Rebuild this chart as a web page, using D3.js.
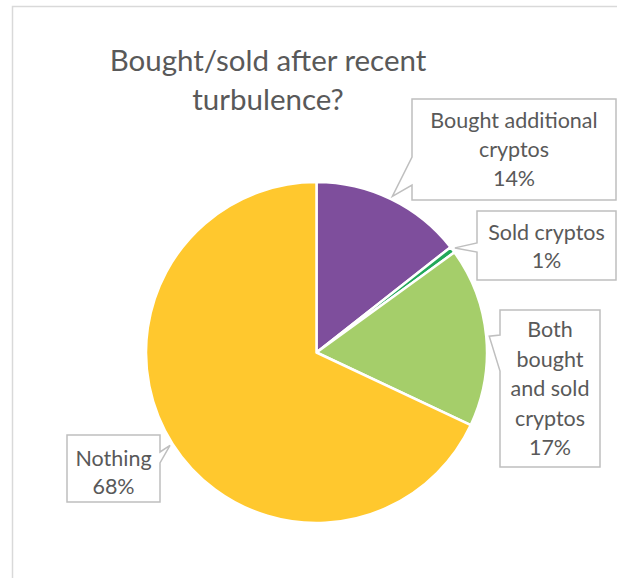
<!DOCTYPE html>
<html>
<head>
<meta charset="utf-8">
<script src="https://cdn.jsdelivr.net/npm/d3@7"></script>
<style>
  html, body { margin: 0; padding: 0; background: #fff; }
  svg { display: block; }
</style>
</head>
<body>
<svg id="chart" width="617" height="578"></svg>
<script>
// ---- data ----
const titleLines = ["Bought/sold after recent", "turbulence?"];
const categories = ["Bought additional cryptos", "Sold cryptos", "Both bought and sold cryptos", "Nothing"];
const values = [14.4, 0.6, 17.0, 68.0];
const colors = ["#7E4E9C", "#22A85A", "#A5CE6A", "#FFC82E"];
const labelLines = [
  ["Bought additional", "cryptos"],
  ["Sold cryptos"],
  ["Both", "bought", "and sold", "cryptos"],
  ["Nothing"]
];

// ---- layout ----
const W = 617, H = 578;
const cx = 316.5, cy = 352.5, R = 170.5;
const font = "Lato, 'Open Sans', sans-serif";
const textColor = "#595959";

// callout boxes: x0,y0,x1,y1, pointer side, base range, first baseline, line step
const boxes = [
  {x0: 412, y0: 99,  x1: 616, y1: 200, side: "left",  b1: 157, b2: 185, base: 128, step: 29},
  {x0: 477, y0: 211, x1: 616, y1: 280, side: "left",  b1: 243, b2: 252, base: 240, step: 28},
  {x0: 500, y0: 310, x1: 600, y1: 467, side: "left",  b1: 335, b2: 371, base: 337, step: 29.5},
  {x0: 67,  y0: 435, x1: 160, y1: 502, side: "right", b1: 452, b2: 463, base: 466, step: 28}
];

const svg = d3.select("#chart");

// chart frame
svg.append("rect")
  .attr("x", 12.5).attr("y", 6.5)
  .attr("width", 800).attr("height", 800)
  .attr("fill", "none")
  .attr("stroke", "#D9D9D9")
  .attr("stroke-width", 1.5);

// title
svg.append("text")
  .attr("x", 268).attr("text-anchor", "middle")
  .attr("font-family", font).attr("font-size", 29.5)
  .attr("fill", textColor)
  .selectAll("tspan").data(titleLines).join("tspan")
  .attr("x", 268)
  .attr("y", (d, i) => 71 + i * 39)
  .text(d => d);

// pie
const pie = d3.pie().sort(null).value(d => d);
const arcs = pie(values);
const total = d3.sum(values);
const arc = d3.arc().innerRadius(0).outerRadius(R);
const g = svg.append("g").attr("transform", `translate(${cx},${cy})`);
g.selectAll("path").data(arcs).join("path")
  .attr("d", arc)
  .attr("fill", (d, i) => colors[i])
  .attr("stroke", "#fff")
  .attr("stroke-width", 2.5)
  .attr("stroke-linejoin", "round");

// callouts
arcs.forEach((a, i) => {
  const b = boxes[i];
  const mid = (a.startAngle + a.endAngle) / 2;
  const tr = R + 3;
  const tx = cx + tr * Math.sin(mid);
  const ty = cy - tr * Math.cos(mid);
  let p;
  if (b.side === "left") {
    p = `M${b.x0},${b.y0}H${b.x1}V${b.y1}H${b.x0}V${b.b2}L${tx},${ty}L${b.x0},${b.b1}Z`;
  } else {
    p = `M${b.x0},${b.y0}H${b.x1}V${b.b1}L${tx},${ty}L${b.x1},${b.b2}V${b.y1}H${b.x0}Z`;
  }
  svg.append("path")
    .attr("d", p)
    .attr("fill", "#fff")
    .attr("stroke", "#BFBFBF")
    .attr("stroke-width", 1.5)
    .attr("stroke-linejoin", "miter");
  const xc = (b.x0 + b.x1) / 2;
  const lines = labelLines[i].concat([Math.round(a.data / total * 100) + "%"]);
  svg.append("text")
    .attr("text-anchor", "middle")
    .attr("font-family", font).attr("font-size", 21.5)
    .attr("fill", textColor)
    .selectAll("tspan").data(lines).join("tspan")
    .attr("x", xc)
    .attr("y", (d, j) => b.base + j * b.step)
    .text(d => d);
});
</script>
</body>
</html>
